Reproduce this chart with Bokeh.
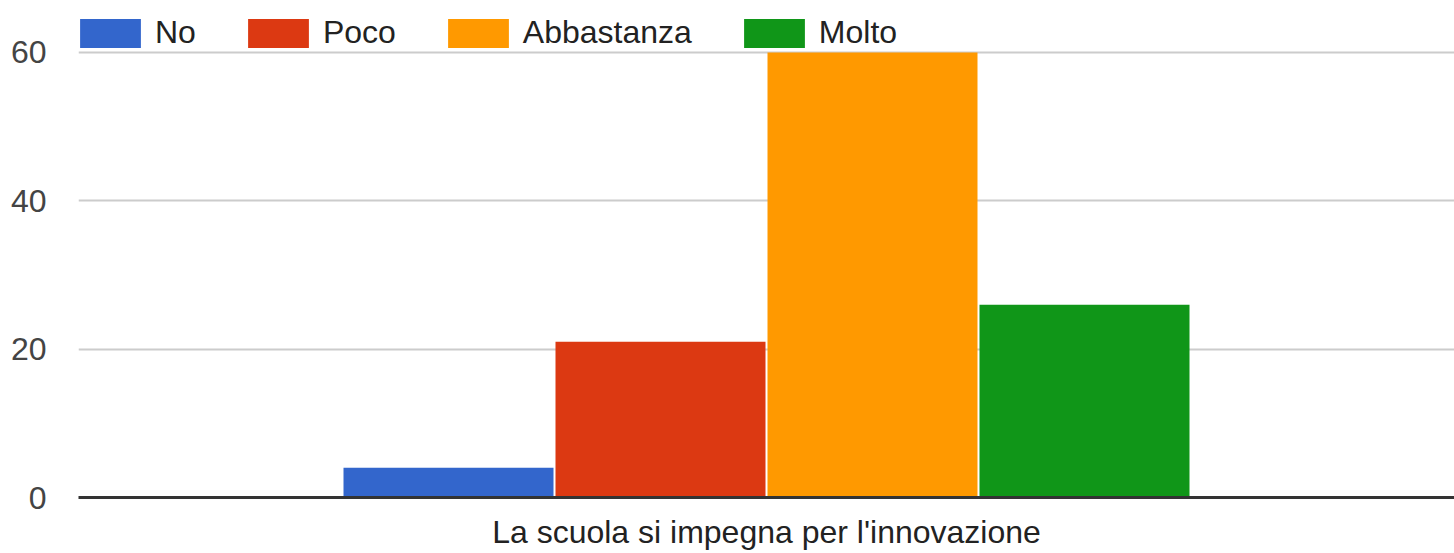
from bokeh.plotting import figure
from bokeh.models import Range1d, FixedTicker, Legend, LegendItem, ColumnDataSource
from bokeh.transform import dodge
from bokeh.embed import file_html
from bokeh.resources import INLINE

# ---- data ----
categories = ["La scuola si impegna per l'innovazione"]
series = ["No", "Poco", "Abbastanza", "Molto"]
values = [4, 21, 60, 26]
colors = ["#3366cc", "#dc3912", "#ff9900", "#109618"]
y_ticks = [0, 20, 40, 60]

FONT = "Liberation Sans"
cat_pos = 0.5            # position of the single category on the x scale
pitch = 212 / 1376       # dodge step between series
bar_w = 210 / 1376

p = figure(width=1454, height=553, output_backend="svg", toolbar_location=None,
           x_range=Range1d(0, 1), y_range=Range1d(0, 65.93),
           min_border_left=78, min_border_right=0, min_border_top=8, min_border_bottom=56)
p.outline_line_color = None
p.background_fill_color = "white"

items = []
for i, (s, v, c) in enumerate(zip(series, values, colors)):
    src = ColumnDataSource(dict(x=[cat_pos], top=[v]))
    r = p.vbar(x=dodge("x", (i - (len(series) - 1) / 2) * pitch, range=p.x_range),
               top="top", width=bar_w, source=src, fill_color=c, line_color=None)
    items.append(LegendItem(label=s, renderers=[r]))

# grid
p.xgrid.visible = False
p.ygrid.ticker = FixedTicker(ticks=y_ticks)
p.ygrid.grid_line_color = "#cccccc"
p.ygrid.grid_line_width = 2

# y axis
p.yaxis.ticker = FixedTicker(ticks=y_ticks)
p.yaxis.axis_line_color = None
p.yaxis.major_tick_line_color = None
p.yaxis.minor_tick_line_color = None
p.yaxis.major_tick_out = 0
p.yaxis.major_tick_in = 0
p.yaxis.major_label_text_font = FONT
p.yaxis.major_label_text_font_size = "32px"
p.yaxis.major_label_text_color = "#444444"
p.yaxis.major_label_standoff = 32

# x axis
p.xaxis.ticker = FixedTicker(ticks=[cat_pos])
p.xaxis.major_label_overrides = {cat_pos: categories[0]}
p.xaxis.major_tick_line_color = None
p.xaxis.minor_tick_line_color = None
p.xaxis.major_tick_out = 0
p.xaxis.major_tick_in = 0
p.xaxis.axis_line_color = "#333333"
p.xaxis.axis_line_width = 3
p.xaxis.major_label_text_font = FONT
p.xaxis.major_label_text_font_size = "32px"
p.xaxis.major_label_text_color = "#222222"
p.xaxis.major_label_standoff = 16

legend = Legend(items=items, orientation="horizontal", location=(-6, 446),
                margin=0, padding=0, spacing=44, label_standoff=7,
                glyph_width=76, glyph_height=36,
                label_text_font=FONT, label_text_font_size="32px",
                label_text_color="#222222",
                border_line_alpha=0, background_fill_alpha=0)
p.add_layout(legend)

open("out.html", "w").write(file_html(p, INLINE))
